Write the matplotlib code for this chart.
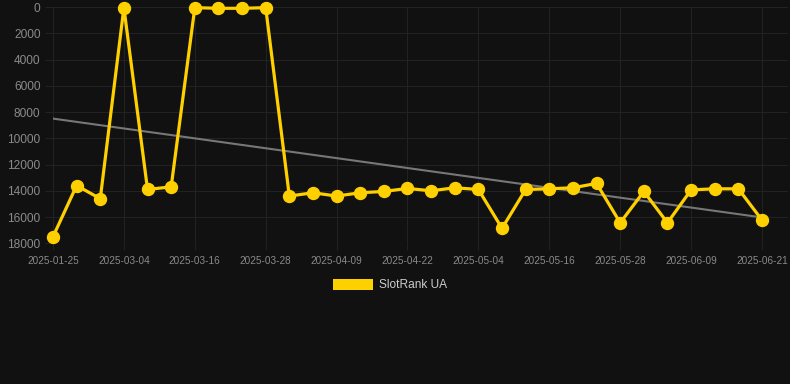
import matplotlib
matplotlib.use("Agg")
import matplotlib.pyplot as plt
from matplotlib.patches import Rectangle

# category axis: one point per date, labels shown every 3rd point
dates = [
    "2025-01-25", "2025-02-10", "2025-02-22", "2025-03-04", "2025-03-08",
    "2025-03-12", "2025-03-16", "2025-03-20", "2025-03-24", "2025-03-28",
    "2025-04-01", "2025-04-05", "2025-04-09", "2025-04-13", "2025-04-18",
    "2025-04-22", "2025-04-26", "2025-04-30", "2025-05-04", "2025-05-08",
    "2025-05-12", "2025-05-16", "2025-05-20", "2025-05-24", "2025-05-28",
    "2025-06-01", "2025-06-05", "2025-06-09", "2025-06-13", "2025-06-17",
    "2025-06-21",
]
rank = [
    17500, 13600, 14600, 50, 13900, 13700, 50, 100, 100, 50,
    14400, 14150, 14400, 14150, 14050, 13820, 14000, 13770, 13900, 16860,
    13900, 13850, 13770, 13440, 16440, 14050, 16440, 13930, 13850, 13850,
    16230,
]
trend = [8500, 16030]  # start / end of the trend line
series_name = "SlotRank UA"
yticks = [0, 2000, 4000, 6000, 8000, 10000, 12000, 14000, 16000, 18000]

W, H = 790, 384
bg = "#111111"
gold = "#ffd000"
grid = "#222222"
tick_c = "#8a8a8a"
font = "Liberation Sans"

fig = plt.figure(figsize=(W / 100, H / 100), dpi=100, facecolor=bg)
ax = fig.add_axes([53 / W, 1 - 243.3 / H, (788 - 53) / W, (243.3 - 7) / H])
ax.set_facecolor(bg)

x = list(range(len(dates)))
ax.plot([x[0], x[-1]], trend, color="#777777", lw=1.5, zorder=2)
ax.plot(x, rank, color=gold, lw=2.3, marker="o", ms=8.6, zorder=3,
        solid_joinstyle="round", clip_on=False)

ax.set_ylim(18000, 0)
ax.set_xlim(0, 30 + 26 / 23.63)
ax.set_yticks(yticks)
ax.set_yticklabels([str(v) for v in yticks], fontsize=8.6, color=tick_c,
                   family=font)
ax.set_xticks(x[::3])
ax.set_xticklabels(dates[::3], fontsize=7.2, color=tick_c, family=font)
ax.tick_params(axis="y", length=6, width=0.8, color=grid, pad=3)
ax.tick_params(axis="x", length=5, width=0.8, color=grid, pad=4)
ax.grid(True, color=grid, lw=0.8, zorder=0)
for s in ax.spines.values():
    s.set_visible(False)

# legend
fig.add_artist(Rectangle((333 / W, 1 - 290 / H), 40 / W, 11 / H,
                         transform=fig.transFigure, facecolor=gold,
                         edgecolor="none"))
fig.text(379 / W, 1 - 284.5 / H, series_name, fontsize=8.6, color="#cccccc",
         family=font, va="center", ha="left")

fig.savefig("out.png", dpi=100, facecolor=bg)
